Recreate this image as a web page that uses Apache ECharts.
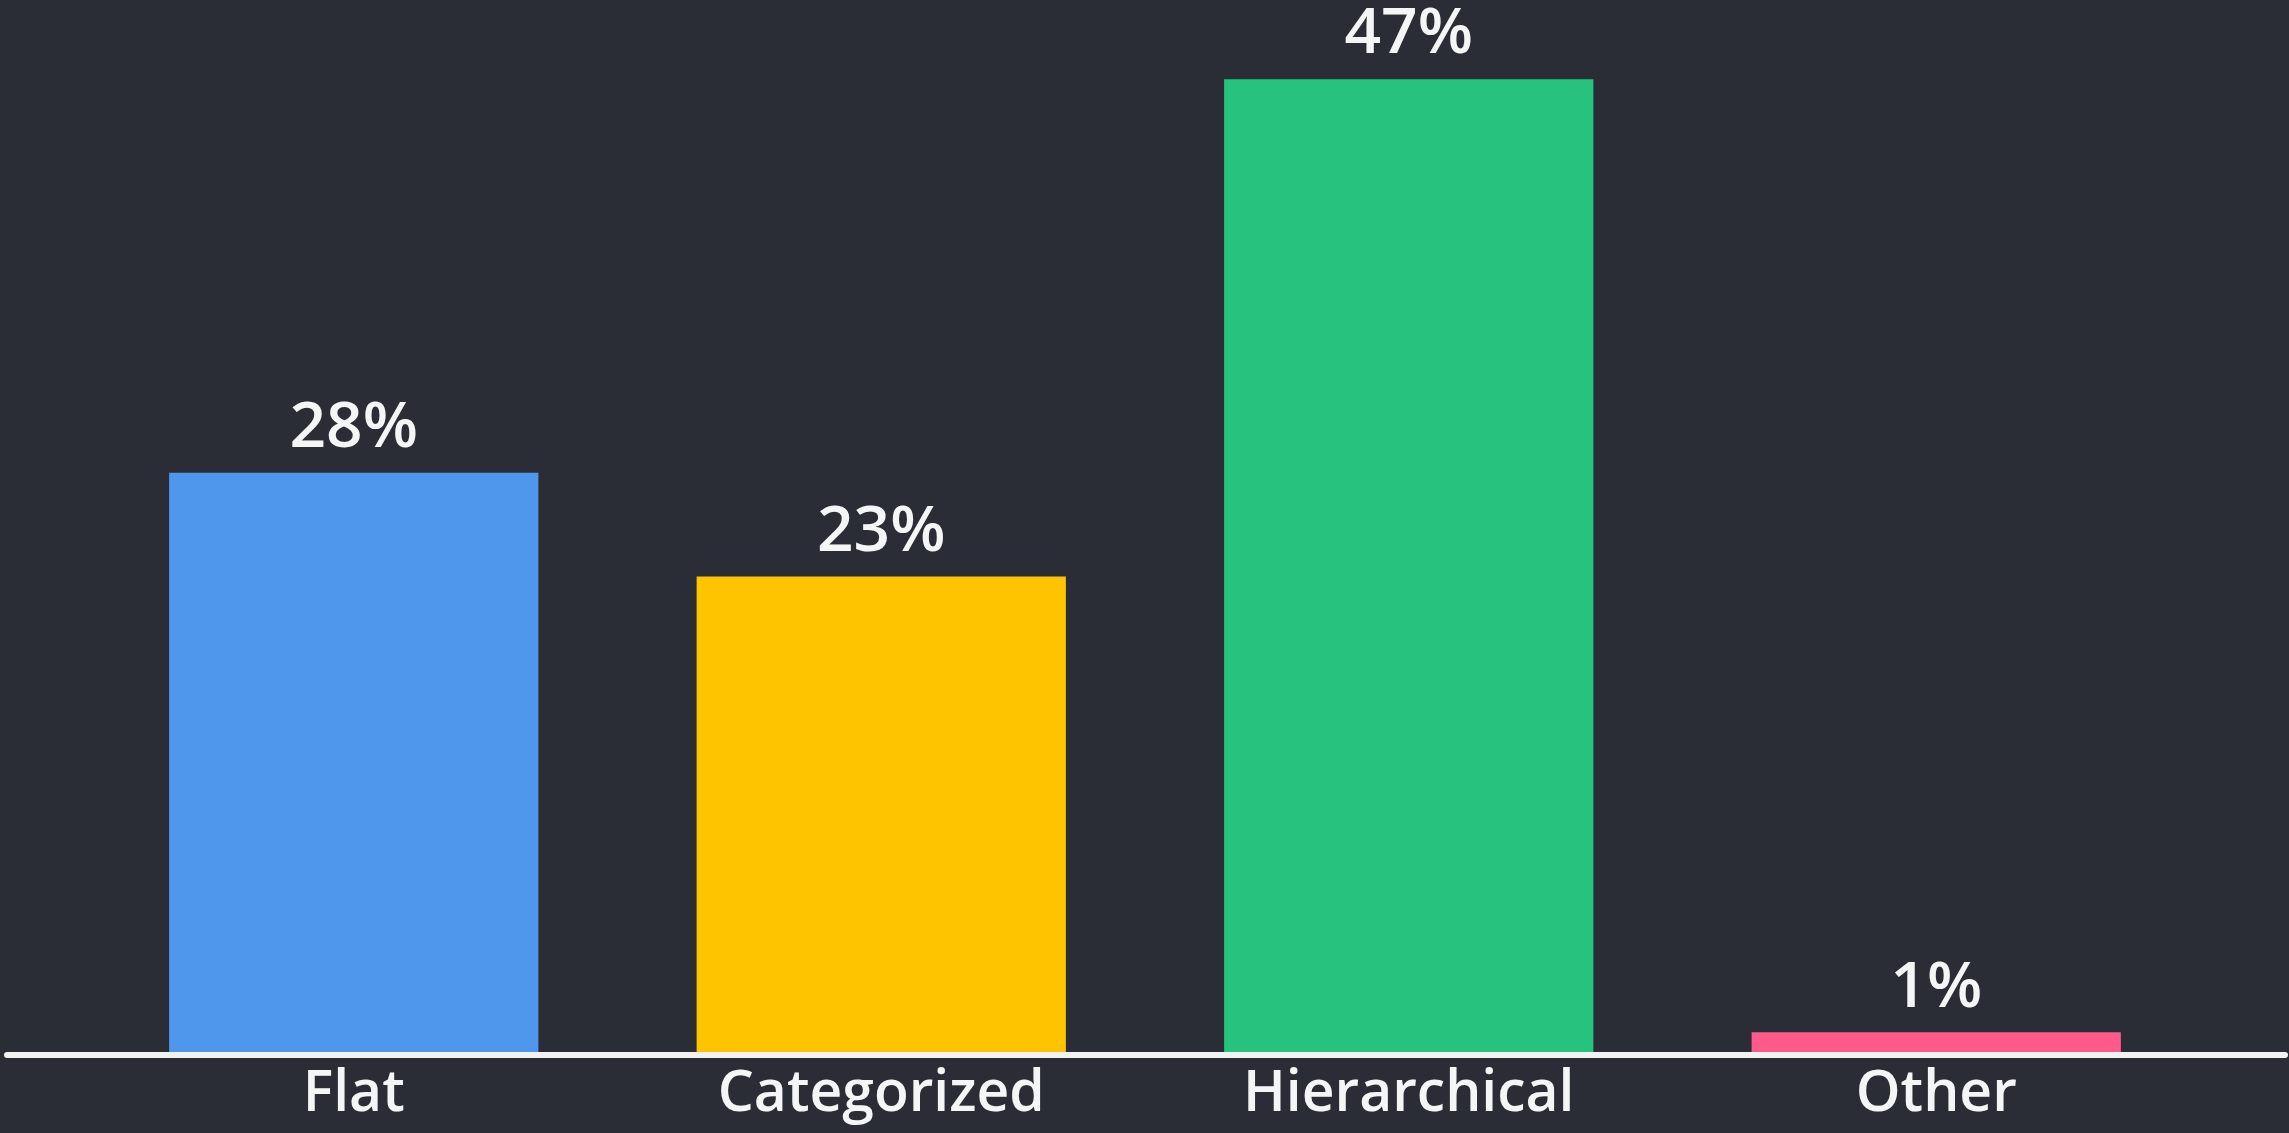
<!DOCTYPE html>
<html>
<head>
<meta charset="utf-8">
<title>Tag structure</title>
<script src="https://cdn.jsdelivr.net/npm/echarts@6/dist/echarts.min.js"></script>
<style>
  html, body { margin: 0; padding: 0; background: #2a2d35; }
  #chart { width: 2289px; height: 1133px; }
</style>
</head>
<body>
<div id="chart"></div>
<script>
// Share of respondents by organisation style
const categories = ['Flat', 'Categorized', 'Hierarchical', 'Other'];
const shares = [28, 23, 47, 1];
const barColors = ['#4e97ec', '#ffc400', '#27c37e', '#ff5a8a'];

const textColor = '#f4f5f7';
const fontFamily = '"Open Sans", "Noto Sans", sans-serif';

const chart = echarts.init(document.getElementById('chart'), null, { renderer: 'canvas' });

chart.setOption({
  backgroundColor: '#2a2d35',
  animation: false,
  grid: [
    { left: 90, right: 89, top: 17, bottom: 80 },
    // full-width baseline under the bars
    { left: 7, right: 4, top: 17, bottom: 78 }
  ],
  xAxis: [
    {
      type: 'category',
      gridIndex: 0,
      data: categories,
      axisLine: { show: false },
      axisTick: { show: false },
      axisLabel: {
        color: textColor,
        fontFamily: fontFamily,
        fontSize: 57,
        fontWeight: 600,
        margin: 13
      }
    },
    {
      type: 'value',
      gridIndex: 1,
      min: 0,
      max: 1,
      z: 10,
      axisLine: { show: true, lineStyle: { color: '#f2f2f2', width: 6 } },
      axisTick: { show: false },
      axisLabel: { show: false },
      splitLine: { show: false }
    }
  ],
  yAxis: [
    {
      type: 'value',
      gridIndex: 0,
      min: 0,
      max: 50,
      show: false,
      splitLine: { show: false }
    },
    {
      type: 'value',
      gridIndex: 1,
      min: 0,
      max: 1,
      show: false,
      splitLine: { show: false }
    }
  ],
  series: [
    {
      type: 'bar',
      xAxisIndex: 0,
      yAxisIndex: 0,
      barWidth: '70%',
      data: shares.map((v, i) => ({ value: v, itemStyle: { color: barColors[i] } })),
      label: {
        show: true,
        position: 'top',
        distance: 12,
        color: textColor,
        fontFamily: fontFamily,
        fontSize: 64,
        fontWeight: 600,
        formatter: p => p.value + '%'
      }
    }
  ]
});
</script>
</body>
</html>
